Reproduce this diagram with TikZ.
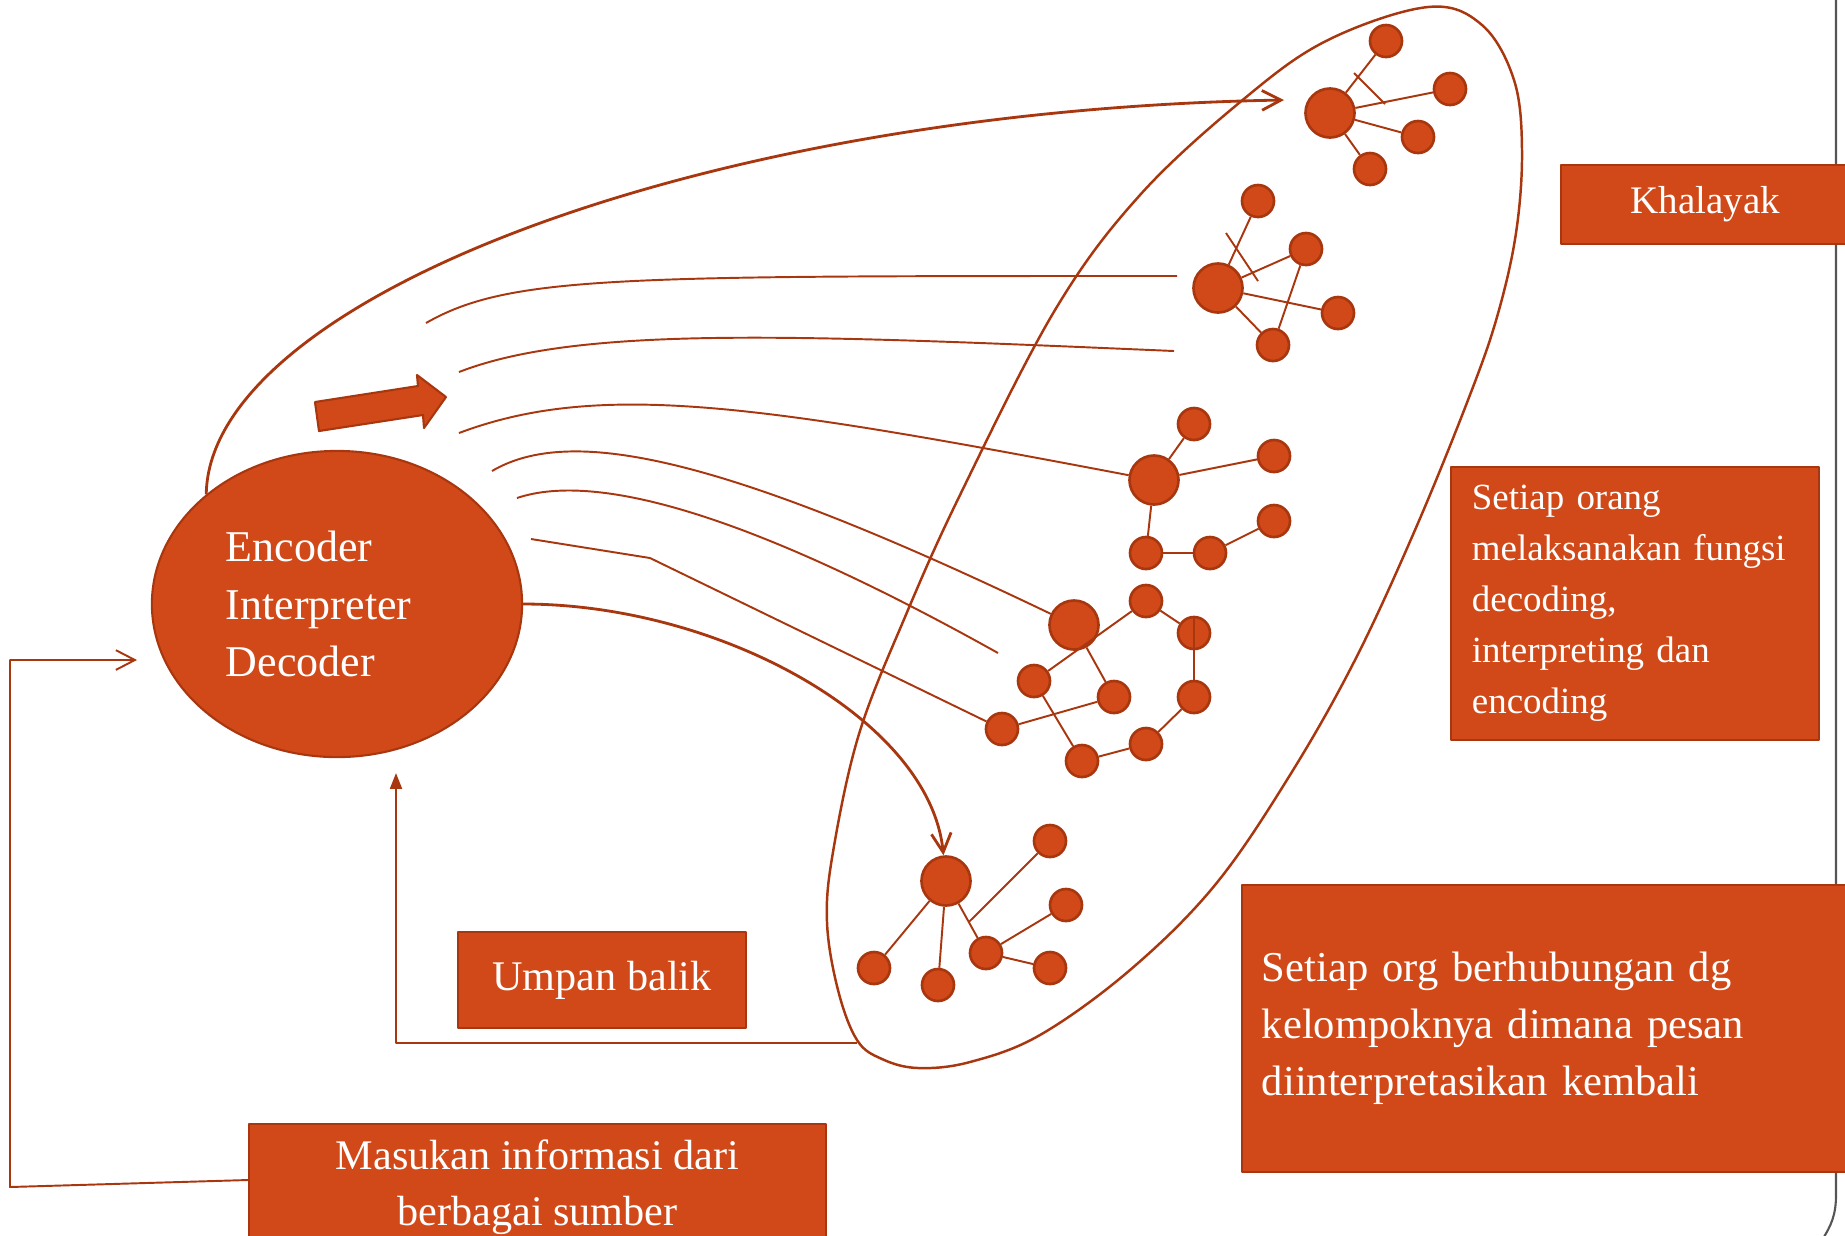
\documentclass[tikz,border=0pt]{standalone}
\usepackage{fontspec}
\setmainfont{Liberation Serif}
\usetikzlibrary{arrows.meta,positioning,calc,shapes.geometric}
\definecolor{rust}{HTML}{D14919}
\definecolor{rustdeep}{HTML}{A8360F}
\definecolor{frame}{HTML}{555555}

\begin{document}
\begin{tikzpicture}[x=0.01cm,y=-0.01cm,line join=round,
  enc/.style={ellipse,fill=rust,draw=rustdeep,line width=0.6pt,minimum width=3.70cm,minimum height=3.06cm,inner sep=0pt,text=white,text width=2.22cm,align=left,font=\fontsize{12.5pt}{16.4pt}\selectfont},
  person/.style={circle,fill=rust,draw=rustdeep,line width=0.75pt,minimum size=0.32cm,inner sep=0pt},
  lead/.style={person,minimum size=0.49cm},
  box/.style={rectangle,fill=rust,draw=rustdeep,line width=0.5pt,text=white,inner sep=0pt},
  wire/.style={draw=rustdeep,line width=0.55pt},
  sendto/.style={wire,line width=0.8pt,-{Straight Barb[length=5.4pt,width=5.6pt]}},
  egg/.style={draw=rustdeep,line width=0.7pt}]
  \useasboundingbox (0,0) rectangle (1845,1235);
  % frame of the slide
  \draw[frame,line width=0.6pt] (1836,-5) -- (1836,1195) .. controls (1836,1215) and (1831,1226) .. (1822,1240);
  % sender
  \node[enc] (enc) at (337,604) {Encoder\\Interpreter\\Decoder};
  \filldraw[fill=rust,draw=rustdeep,line width=0.6pt] (315,402) -- (418,386) -- (417,375) -- (446,397) -- (424,428) -- (423,415) -- (319,431) -- cycle;
  % audience
  \draw[egg] plot[smooth cycle,tension=0.6] coordinates {(1428,7) (1482,25) (1514,80) (1522,150) (1516,233) (1497,317) (1468,400) (1415,530) (1355,660) (1290,775) (1215,885) (1130,970) (1040,1035) (970,1062) (918,1068) (882,1059) (857,1040) (838,990) (827,922) (833,852) (859,734) (905,617) (960,495) (1055,310) (1140,195) (1245,98) (1328,40)};
  \node[lead] (a1) at (1330,113) {};
  \node[person] (a2) at (1386,41) {};
  \node[person] (a3) at (1450,89) {};
  \node[person] (a4) at (1418,137) {};
  \node[person] (a5) at (1370,169) {};
  \draw[wire] (a1) -- (a2); \draw[wire] (a1) -- (a3); \draw[wire] (a1) -- (a4); \draw[wire] (a1) -- (a5);
  \draw[wire] (1354,73) -- (1385,104);
  \node[lead] (b1) at (1218,288) {};
  \node[person] (b2) at (1258,201) {};
  \node[person] (b3) at (1306,249) {};
  \node[person] (b4) at (1338,313) {};
  \node[person] (b5) at (1273,345) {};
  \draw[wire] (b1) -- (b2); \draw[wire] (b1) -- (b3); \draw[wire] (b1) -- (b4); \draw[wire] (b1) -- (b5); \draw[wire] (b3) -- (b5);
  \draw[wire] (1226,233) -- (1258,281);
  \node[lead] (c1) at (1154,480) {};
  \node[person] (c2) at (1194,424) {};
  \node[person] (c3) at (1274,456) {};
  \node[person] (c4) at (1274,521) {};
  \node[person] (c5) at (1146,553) {};
  \node[person] (c6) at (1210,553) {};
  \draw[wire] (c1) -- (c2); \draw[wire] (c1) -- (c3); \draw[wire] (c1) -- (c5); \draw[wire] (c5) -- (c6); \draw[wire] (c6) -- (c4);
  \node[lead] (d1) at (1074,625) {};
  \node[person] (d2) at (1146,601) {};
  \node[person] (d3) at (1194,633) {};
  \node[person] (d4) at (1194,697) {};
  \node[person] (d5) at (1146,744) {};
  \node[person] (d6) at (1082,761) {};
  \node[person] (d7) at (1034,681) {};
  \node[person] (d8) at (1114,697) {};
  \node[person] (d9) at (1002,729) {};
  \draw[wire] (d2) -- (d3); \draw[wire] (d3.north) -- (d4);
  \draw[wire] (d4) -- (d5) -- (d6) -- (d7) -- (d2);
  \draw[wire] (d1) -- (d8) -- (d9);
  \node[lead] (e1) at (946,881) {};
  \node[person] (e2) at (1050,841) {};
  \node[person] (e3) at (1066,905) {};
  \node[person] (e4) at (1050,968) {};
  \node[person] (e5) at (986,953) {};
  \node[person] (e6) at (938,985) {};
  \node[person] (e7) at (874,968) {};
  \draw[wire] (e1) -- (e7); \draw[wire] (e1) -- (e6); \draw[wire] (e1) -- (e5);
  \draw[wire] ($(e1)!0.57!(e5)$) -- (e2); \draw[wire] (e5) -- (e3); \draw[wire] (e5) -- (e4);
  % messages
  \coordinate (topEnd) at (1284,100);
  \draw[sendto] (enc.140) .. controls (209,300) and (700,110) .. (topEnd);
  \coordinate (m1a) at (426,323); \coordinate (m1b) at (1177,276);
  \coordinate (m2a) at (459,372); \coordinate (m2b) at (1174,351);
  \coordinate (m3a) at (459,433);
  \coordinate (m4a) at (492,471);
  \coordinate (m5a) at (517,498); \coordinate (m5b) at (998,653);
  \coordinate (m6a) at (531,539);
  \draw[wire] (m1a) .. controls (510,275) and (620,276) .. (m1b);
  \draw[wire] (m2a) .. controls (580,325) and (800,335) .. (m2b);
  \draw[wire] (m3a) .. controls (600,380) and (760,405) .. (c1);
  \draw[wire] (m4a) .. controls (570,425) and (720,455) .. (d1);
  \draw[wire] (m5a) .. controls (600,470) and (760,520) .. (m5b);
  \draw[wire] (m6a) -- (650,558) -- (d9);
  \draw[sendto] (enc.east) .. controls (720,604) and (930,720) .. (e1);
  % feedback and input
  \coordinate (fbS) at (857,1043);
  \coordinate (fbE) at (396,773);
  \draw[wire,-{Triangle[length=4.5pt,width=3.4pt]}] (fbS) -| (fbE);
  \node[box,minimum width=5.77cm,minimum height=1.26cm,align=center,font=\fontsize{12pt}{15.9pt}\selectfont] (mas) at (537.5,1187) {Masukan informasi dari\\berbagai sumber};
  \coordinate (inL) at (137,660);
  \draw[wire,-{Straight Barb[length=5.4pt,width=5.6pt]}] ([yshift=0.07cm]mas.west) -- (10,1187) |- (inL);
  \node[box,minimum width=2.88cm,minimum height=0.96cm,font=\fontsize{12pt}{15pt}\selectfont] (ub) at (602,980) {Umpan balik};
  % labels on the right
  \node[box,minimum width=2.89cm,minimum height=0.79cm,font=\fontsize{11.1pt}{14pt}\selectfont] (kh) at (1705.5,204.5) {Khalayak};
  \node[box,anchor=west,minimum height=2.73cm,inner xsep=0.21cm,text width=3.26cm,align=left,font=\fontsize{10.5pt}{14.5pt}\selectfont] (fn) at (1450,603.5) {Setiap orang\\melaksanakan fungsi\\decoding,\\interpreting dan\\encoding};
  \node[box,anchor=west,minimum height=2.87cm,inner xsep=0.2cm,text width=5.69cm,align=left,font=\fontsize{12.1pt}{16.2pt}\selectfont] (grp) at (1241,1028.5) {Setiap org berhubungan dg\\kelompoknya dimana pesan\\diinterpretasikan kembali};
\end{tikzpicture}
\end{document}
